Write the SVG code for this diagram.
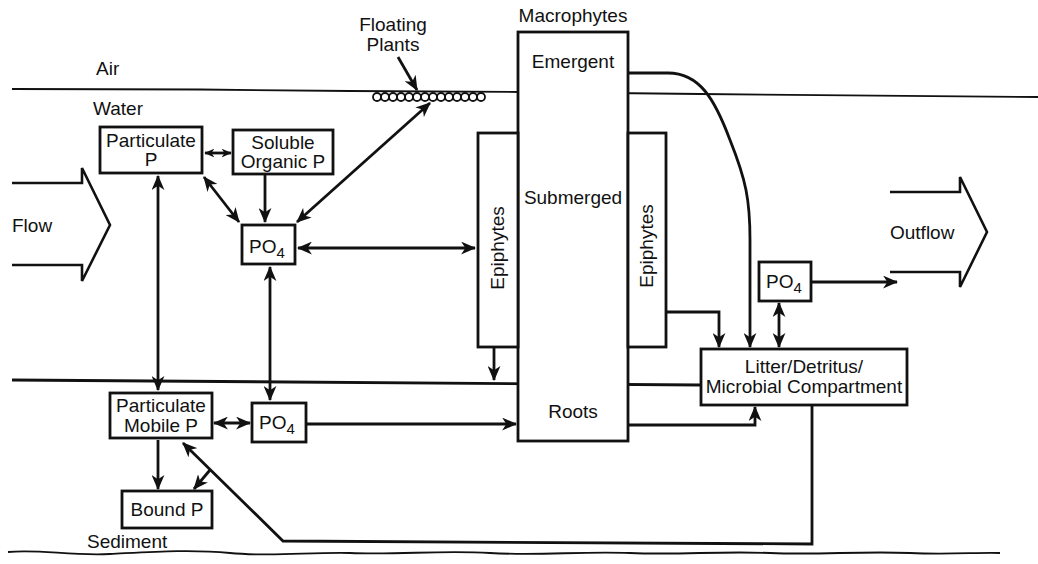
<svg xmlns="http://www.w3.org/2000/svg" width="1038" height="564" viewBox="0 0 1038 564">
<style>
text{font-family:"Liberation Sans",Arial,sans-serif;font-size:19px;fill:#111}
.c{text-anchor:middle}
.box{fill:#fff;stroke:#111;stroke-width:2.8}
.ln{fill:none;stroke:#111;stroke-width:2.8}
.th{fill:none;stroke:#111;stroke-width:1.8}
.fl{fill:none;stroke:#111;stroke-width:2.6;stroke-linejoin:miter}
.a{marker-end:url(#ah)}
.aa{marker-start:url(#ah);marker-end:url(#ah)}
.s{font-size:15px}
</style>
<defs>
<marker id="ah" viewBox="0 0 14 12" refX="13" refY="6" markerWidth="15" markerHeight="13" markerUnits="userSpaceOnUse" orient="auto-start-reverse">
<path d="M0,0 L14,6 L0,12 L4,6 z" fill="#111"/>
</marker>
<marker id="sm" viewBox="0 0 14 12" refX="13" refY="6" markerWidth="10" markerHeight="9" markerUnits="userSpaceOnUse" orient="auto-start-reverse">
<path d="M0,0 L14,6 L0,12 L4,6 z" fill="#111"/>
</marker>
</defs>

<g id="environment">
<path class="th" d="M12,89 L200,89.5 L350,91 L520,92 L700,94 L1038,97"/>
<path class="ln" d="M12,380 L700,385"/>
<path class="th" d="M8,552 C40,549 70,556 110,554 C150,552 190,549 230,553 C270,557 310,552 350,553 C400,555 440,550 490,553 C540,556 580,551 630,553 C680,555 720,551 770,553 C820,555 860,551 910,553 C950,555 980,552 1000,553"/>
<text x="96" y="75">Air</text>
<text x="93" y="115">Water</text>
<text x="87" y="548">Sediment</text>
</g>

<g id="flow">
<path class="fl" d="M12,183 L82,183 L82,168 L110,225 L82,281 L82,265 L12,265"/>
<text x="12" y="232">Flow</text>
</g>

<g id="outflow">
<path class="fl" d="M890,192 L960,192 L960,177 L987,232 L960,287 L960,272 L890,272"/>
<text x="890" y="239">Outflow</text>
</g>

<g id="floating-plants">
<text class="c" x="393" y="31">Floating</text>
<text class="c" x="393" y="51">Plants</text>
<g class="th" stroke-width="1.4">
<circle cx="377" cy="97" r="4"/><circle cx="385" cy="97" r="4"/><circle cx="393" cy="97" r="4"/><circle cx="401" cy="97" r="4"/><circle cx="409" cy="97" r="4"/><circle cx="417" cy="97" r="4"/><circle cx="425" cy="97" r="4"/><circle cx="433" cy="97" r="4"/><circle cx="441" cy="97" r="4"/><circle cx="449" cy="97" r="4"/><circle cx="457" cy="97" r="4"/><circle cx="465" cy="97" r="4"/><circle cx="473" cy="97" r="4"/><circle cx="481" cy="97" r="4"/>
</g>
</g>

<g id="macrophytes">
<rect class="box" x="518" y="32" width="110" height="409"/>
<text class="c" x="573" y="22">Macrophytes</text>
<text class="c" x="573" y="68">Emergent</text>
<text class="c" x="573" y="204">Submerged</text>
<text class="c" x="573" y="418">Roots</text>
</g>

<g id="epiphytes-left">
<rect class="box" x="478" y="133" width="40" height="214"/>
<text class="c" transform="translate(504,248) rotate(-90)">Epiphytes</text>
</g>

<g id="epiphytes-right">
<rect class="box" x="628" y="133" width="38" height="214"/>
<text class="c" transform="translate(653,246) rotate(-90)">Epiphytes</text>
</g>

<g id="particulate-p">
<rect class="box" x="100" y="127" width="102" height="46"/>
<text class="c" x="151" y="147">Particulate</text>
<text class="c" x="151" y="166">P</text>
</g>

<g id="soluble-organic-p">
<rect class="box" x="233" y="130" width="100" height="44"/>
<text class="c" x="283" y="149">Soluble</text>
<text class="c" x="283" y="168">Organic P</text>
</g>

<g id="po4-water">
<rect class="box" x="242" y="225" width="53" height="39"/>
<text x="249" y="253">PO<tspan class="s" dy="5">4</tspan></text>
</g>

<g id="po4-outflow">
<rect class="box" x="759" y="262" width="52" height="39"/>
<text x="766" y="288">PO<tspan class="s" dy="5">4</tspan></text>
</g>

<g id="litter">
<rect class="box" x="701" y="349" width="206" height="56"/>
<text class="c" x="804" y="373">Litter/Detritus/</text>
<text class="c" x="804" y="393">Microbial Compartment</text>
</g>

<g id="particulate-mobile-p">
<rect class="box" x="110" y="393" width="102" height="45"/>
<text class="c" x="161" y="412">Particulate</text>
<text class="c" x="161" y="432">Mobile P</text>
</g>

<g id="po4-sediment">
<rect class="box" x="252" y="403" width="54" height="39"/>
<text x="259" y="429">PO<tspan class="s" dy="5">4</tspan></text>
</g>

<g id="bound-p">
<rect class="box" x="122" y="491" width="90" height="37"/>
<text class="c" x="167" y="516">Bound P</text>
</g>

<g id="connectors">
<path class="ln a" d="M398,57 L417,90"/>
<path class="ln" stroke-width="2" d="M205,153 L231,153" marker-start="url(#sm)" marker-end="url(#sm)"/>
<path class="ln aa" d="M204,177 L239,222"/>
<path class="ln a" d="M265,175 L265,222"/>
<path class="ln aa" d="M430,103 L297,222"/>
<path class="ln aa" d="M298,248 L475,248"/>
<path class="ln aa" d="M158,176 L158,390"/>
<path class="ln aa" d="M270,267 L270,400"/>
<path class="ln aa" d="M214,423 L250,423"/>
<path class="ln a" d="M306,424 L516,424"/>
<path class="ln a" d="M158,440 L158,489"/>
<path class="ln a" d="M494,347 L494,380"/>
<path class="ln a" d="M666,312 L719,312 L719,347"/>
<path class="ln a" d="M628,73 L668,73 C700,73 715,100 730,140 C746,180 750,200 750,240 L750,347"/>
<path class="ln aa" d="M779,303 L779,347"/>
<path class="ln a" d="M811,282 L897,282"/>
<path class="ln a" d="M628,425 L755,425 L755,407"/>
<path class="ln a" d="M812,405 L812,544 L283,541 L183,443"/>
<path class="ln a" d="M210,470 L194,489"/>
</g>
</svg>
